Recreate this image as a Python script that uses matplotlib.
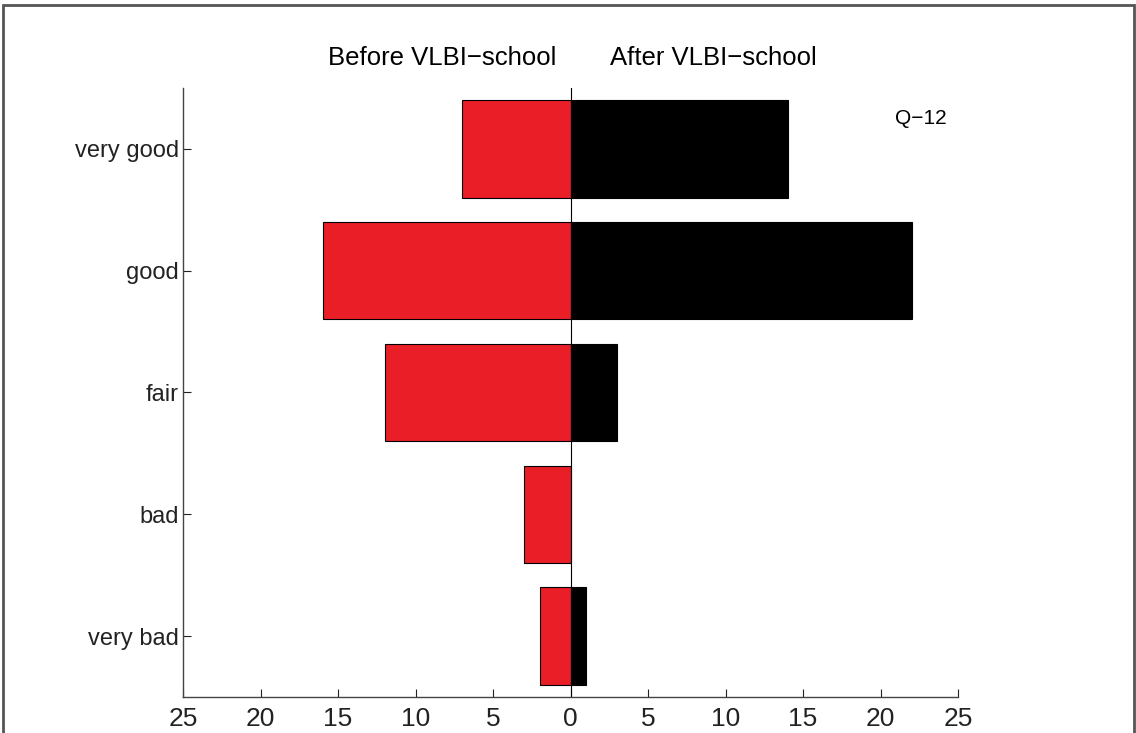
import numpy as np
import matplotlib
matplotlib.use("Agg")
from matplotlib import pyplot as plt
from matplotlib.patches import Rectangle

plt.rcParams['font.family'] = ['Liberation Sans', 'DejaVu Sans']

# data
categories = ['very good', 'good', 'fair', 'bad', 'very bad']
before = [7, 16, 12, 3, 2]
after = [14, 22, 3, 0, 1]
xticks = [-25, -20, -15, -10, -5, 0, 5, 10, 15, 20, 25]
xticklabels = ['25', '20', '15', '10', '5', '0', '5', '10', '15', '20', '25']

W, H = 1136, 733
fig = plt.figure(figsize=(W/100, H/100), dpi=100)
ax = fig.add_axes([183/W, 1 - 697/H, (958-183)/W, (697-88)/H])

ypos = np.arange(len(categories), 0, -1)
ax.barh(ypos, -np.array(before), height=0.8, color='#E91E26', edgecolor='black', linewidth=0.8)
nz = np.array(after) > 0
ax.barh(ypos[nz], np.array(after)[nz], height=0.8, color='black', edgecolor='black', linewidth=0.8)
ax.axvline(0, color='black', linewidth=0.8)

ax.set_xlim(-25, 25)
ax.set_ylim(0.5, 5.5)
ax.set_xticks(xticks)
ax.set_xticklabels(xticklabels)
ax.set_yticks(ypos)
ax.set_yticklabels(categories)
ax.tick_params(direction='in', length=6, width=0.8, colors='#222222')
ax.tick_params(axis='x', labelsize=19, pad=7)
ax.tick_params(axis='y', labelsize=17, pad=3)
for s in ['top', 'right']:
    ax.spines[s].set_visible(False)
for s in ['left', 'bottom']:
    ax.spines[s].set_color('#444444')
    ax.spines[s].set_linewidth(1.0)

fig.text(442/W, 1 - 58/H, 'Before VLBI\u2212school', ha='center', va='center', fontsize=18.5)
fig.text(713/W, 1 - 58/H, 'After VLBI\u2212school', ha='center', va='center', fontsize=18.5)
fig.text(947/W, 1 - 119/H, 'Q\u221212', ha='right', va='center', fontsize=15)

# outer frame
fig.patches.append(Rectangle((3/W, -0.02), (W-5)/W, 1 - 5/H + 0.02, transform=fig.transFigure,
                             fill=False, edgecolor='#555555', linewidth=2))

fig.savefig('out.png', dpi=100)
